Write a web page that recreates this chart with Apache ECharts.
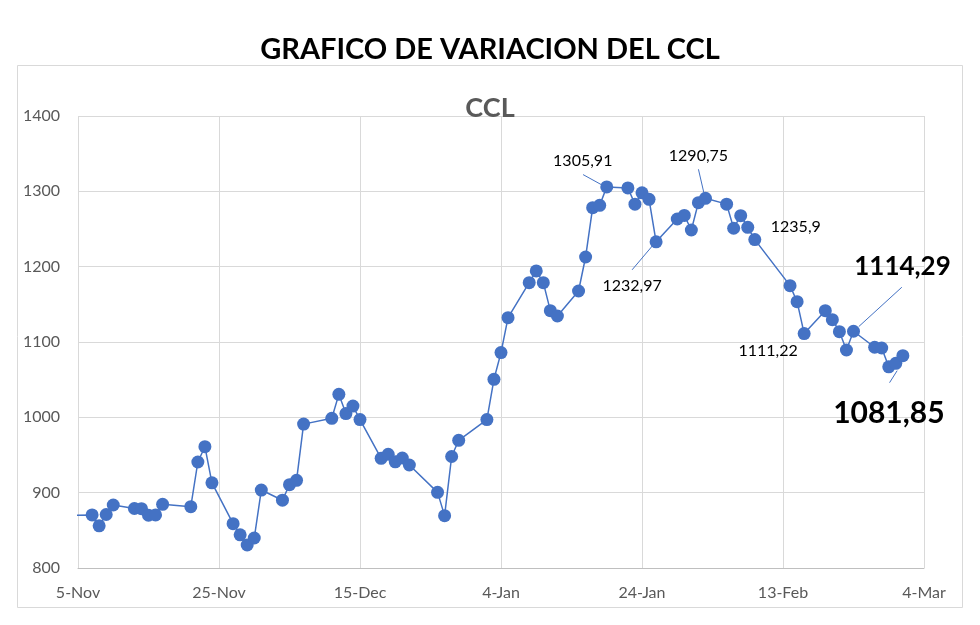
<!DOCTYPE html>
<html>
<head>
<meta charset="utf-8">
<script src="https://cdn.jsdelivr.net/npm/echarts@6/dist/echarts.min.js"></script>
<style>
html,body{margin:0;padding:0;background:#fff;}
#chart{width:980px;height:625px;}
</style>
</head>
<body>
<div id="chart"></div>
<script>
// ---- data ----
var dates = ['2023-11-03','2023-11-07','2023-11-08','2023-11-09','2023-11-10','2023-11-13','2023-11-14','2023-11-15','2023-11-16','2023-11-17','2023-11-21','2023-11-22','2023-11-23','2023-11-24','2023-11-27','2023-11-28','2023-11-29','2023-11-30',
 '2023-12-01','2023-12-04','2023-12-05','2023-12-06','2023-12-07','2023-12-11','2023-12-12','2023-12-13','2023-12-14','2023-12-15','2023-12-18','2023-12-19','2023-12-20','2023-12-21','2023-12-22','2023-12-26','2023-12-27','2023-12-28','2023-12-29',
 '2024-01-02','2024-01-03','2024-01-04','2024-01-05','2024-01-08','2024-01-09','2024-01-10','2024-01-11','2024-01-12','2024-01-15','2024-01-16','2024-01-17','2024-01-18','2024-01-19','2024-01-22','2024-01-23','2024-01-24','2024-01-25','2024-01-26','2024-01-29','2024-01-30','2024-01-31',
 '2024-02-01','2024-02-02','2024-02-05','2024-02-06','2024-02-07','2024-02-08','2024-02-09','2024-02-14','2024-02-15','2024-02-16','2024-02-19','2024-02-20','2024-02-21','2024-02-22','2024-02-23','2024-02-26','2024-02-27','2024-02-28','2024-02-29',
 '2024-03-01'];
var cclValues = [870, 870.4, 856, 871, 883.6, 879, 878.7, 870, 870.4, 884.5, 881.4, 940.7, 961, 913, 858.8, 844, 830.5, 839.8,
 903.5, 890, 910.6, 916.4, 991, 998.7, 1030.5, 1005, 1015, 997, 945.6, 951, 941, 946, 936.7, 900.4, 869.5, 948, 969.5,
 997, 1050.5, 1085.9, 1132.3, 1178.8, 1194.3, 1178.8, 1141.6, 1134.5, 1167.7, 1212.8, 1278.3, 1281.4, 1305.91, 1304.5, 1283, 1298, 1289.4, 1232.97, 1263.3, 1268, 1248.7,
 1285, 1290.75, 1283, 1251, 1267.7, 1252.2, 1235.9, 1174.8, 1153.5, 1111.22, 1141.6, 1129.6, 1113.7, 1089.4, 1114.29, 1093, 1092, 1067, 1071.7,
 1081.85];
var labeledDates = ['2024-01-19','2024-01-26','2024-02-02','2024-02-09','2024-02-16','2024-02-23','2024-03-01'];
var axisStart = '2023-11-05';
var axisEnd = '2024-03-04';
var tickStepDays = 20;
var yMin = 800, yMax = 1400, yStep = 100;
var monthNames = ['Jan','Feb','Mar','Apr','May','Jun','Jul','Aug','Sep','Oct','Nov','Dec'];
var chartTitle = 'GRAFICO DE VARIACION DEL CCL';
var seriesName = 'CCL';

// ---- styling (label fonts/offsets and leader-line offsets in pixels, relative to the point) ----
var labelStyle = {
  '2024-01-19': {dx: -24, dy: -7, size: 16, bold: false},
  '2024-01-26': {dx: -24, dy: 64, size: 16, bold: false},
  '2024-02-02': {dx: -7, dy: -23, size: 16, bold: false},
  '2024-02-09': {dx: 41, dy: 7, size: 16, bold: false},
  '2024-02-16': {dx: -36, dy: 37, size: 16, bold: false},
  '2024-02-23': {dx: 49, dy: -40, size: 26, bold: true},
  '2024-03-01': {dx: -14, dy: 84, size: 30, bold: true}
};
var leaderShift = {
  '2024-01-19': [-23.7, -12.3, -5, -2],
  '2024-01-26': [-24, 28, -2, 2],
  '2024-02-02': [-7, -29, -1.7, -6],
  '2024-02-23': [48.3, -44, 5.3, -4.7],
  '2024-03-01': [-13.3, 27, -5.7, 15]
};

function toUTC(s){ var p = s.split('-'); return Date.UTC(+p[0], +p[1]-1, +p[2]); }
var baseMs = toUTC(axisStart);
function dayOffset(s){ return Math.round((toUTC(s) - baseMs) / 86400000); }
var xMax = dayOffset(axisEnd);

var seriesData = dates.map(function(d, i){
  var item = { value: [dayOffset(d), cclValues[i]] };
  if (labeledDates.indexOf(d) >= 0) {
    var st = labelStyle[d];
    item.label = {
      show: true,
      position: 'top',
      distance: 5,
      formatter: function(){ return String(cclValues[i]).replace('.', ','); },
      fontFamily: 'Lato',
      fontSize: st.size,
      fontWeight: st.bold ? 'bold' : 'normal',
      color: '#000'
    };
  }
  return item;
});

var leaderData = dates.map(function(d, i){ return [dayOffset(d), cclValues[i], i]; })
  .filter(function(r){ return leaderShift[dates[r[2]]]; });

var chart = echarts.init(document.getElementById('chart'), null, {renderer: 'canvas'});
chart.setOption({
  animation: false,
  backgroundColor: '#fff',
  graphic: [{
    type: 'rect', z: -1, silent: true,
    shape: { x: 17.5, y: 65.5, width: 945, height: 542 },
    style: { fill: 'none', stroke: '#d9d9d9', lineWidth: 1 }
  }],
  title: [{
    text: chartTitle, left: 'center', top: 29,
    textStyle: { fontFamily: 'Lato', fontSize: 29, fontWeight: 'bold', color: '#000', lineHeight: 32 }
  }, {
    text: seriesName, left: 'center', top: 88,
    textStyle: { fontFamily: 'Lato', fontSize: 27, fontWeight: 'bold', color: '#595959', lineHeight: 30 }
  }],
  grid: { left: 78, right: 56, top: 116, bottom: 57 },
  xAxis: {
    type: 'value', min: 0, max: xMax, interval: tickStepDays,
    axisLine: { show: true, lineStyle: { color: '#bfbfbf', width: 1 } },
    axisTick: { show: false },
    splitLine: { show: true, lineStyle: { color: '#d9d9d9', width: 1 } },
    axisLabel: {
      margin: 17, color: '#595959', fontFamily: 'Lato', fontSize: 16,
      formatter: function(v){ var dt = new Date(baseMs + v*86400000); return dt.getUTCDate() + '-' + monthNames[dt.getUTCMonth()]; }
    }
  },
  yAxis: {
    type: 'value', min: yMin, max: yMax, interval: yStep,
    axisLine: { show: false }, axisTick: { show: false },
    splitLine: { show: true, lineStyle: { color: '#d9d9d9', width: 1 } },
    axisLabel: { margin: 18, color: '#595959', fontFamily: 'Lato', fontSize: 16, formatter: function(v){ return String(v); } }
  },
  series: [{
    name: seriesName, type: 'line', data: seriesData, clip: true,
    symbol: 'circle', symbolSize: 13, showAllSymbol: true,
    lineStyle: { color: '#4472C4', width: 1.5 },
    itemStyle: { color: '#4472C4' },
    label: { show: false },
    labelLayout: function(params){
      var s = labelStyle[dates[params.dataIndex]];
      if (!s) return {};
      return { dx: s.dx, dy: s.dy };
    },
    z: 3
  }, {
    name: 'leaders', type: 'custom', data: leaderData, silent: true, z: 2,
    encode: { x: 0, y: 1 },
    renderItem: function(params, api){
      var p = api.coord([api.value(0), api.value(1)]);
      var o = leaderShift[dates[api.value(2)]];
      return {
        type: 'line',
        shape: { x1: p[0] + o[0], y1: p[1] + o[1], x2: p[0] + o[2], y2: p[1] + o[3] },
        style: { stroke: '#4472C4', lineWidth: 1 }
      };
    }
  }]
});
</script>
</body>
</html>
